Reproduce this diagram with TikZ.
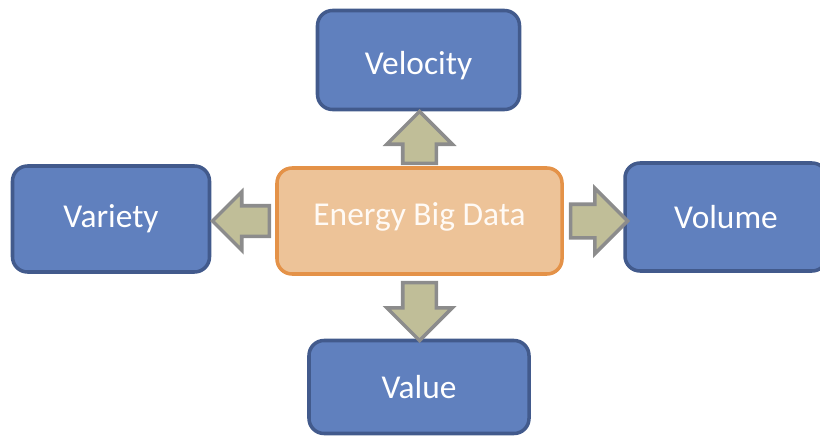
\documentclass[tikz,border=0pt]{standalone}
\usepackage{fontspec}
\setmainfont{Carlito}
\usepackage{xcolor}
\definecolor{boxblue}{RGB}{96,128,190}
\definecolor{boxblueline}{RGB}{66,90,140}
\definecolor{boxorange}{RGB}{237,195,152}
\definecolor{boxorangeline}{RGB}{228,146,72}
\definecolor{arrowkhaki}{RGB}{192,190,152}
\definecolor{arrowgray}{RGB}{140,140,140}
\usepackage{tikz}
\usetikzlibrary{positioning,calc,shapes.arrows}
\tikzstyle{vbox} = [rectangle, rounded corners=0.3cm, draw=boxblueline,
  fill=boxblue, line width=2pt, text=white,
  font=\fontsize{19}{22}\selectfont]
\tikzstyle{fatarrow} = [single arrow, draw=arrowgray, fill=arrowkhaki,
  line width=2pt, inner sep=0pt, single arrow head extend=0.32cm,
  anchor=tail]
\tikzstyle{uparrow} = [fatarrow, inner xsep=0.3cm]
\tikzstyle{sidearrow} = [fatarrow, inner ysep=0.3cm]

\begin{document}
\begin{tikzpicture}
  \useasboundingbox (0,0) rectangle (16.4,-8.72);
  % centre
  \node[vbox, draw=boxorangeline, fill=boxorange, text=white!96!orange,
    minimum width=5.7cm, minimum height=2.12cm] (energy) at (8.39, -4.42)
    {\raisebox{0.08cm}[\height][\depth]{Energy Big Data}};
  % the four V's
  \node[vbox, minimum width=4.04cm, minimum height=1.98cm]
    (velocity) at (8.37, -1.2) {\raisebox{-0.12cm}[\height][\depth]{Velocity}};
  \node[vbox, minimum width=3.94cm, minimum height=2.12cm]
    (variety) at (2.22, -4.38) {Variety};
  \node[vbox, minimum width=4.04cm, minimum height=2.16cm]
    (volume) at (14.52, -4.34) {Volume};
  \node[vbox, minimum width=4.4cm, minimum height=1.86cm]
    (value) at (8.38, -7.74) {Value};
  % arrows
  \node[uparrow, shape border rotate=90, minimum height=1.04cm]
    (toVelocity) at ([yshift=0.02cm]energy.north) {};
  \node[sidearrow, shape border rotate=180, minimum height=1.14cm,
    inner ysep=0.27cm, single arrow head extend=0.28cm]
    (toVariety) at ([xshift=-0.08cm]energy.west) {};
  \node[sidearrow, shape border rotate=0, minimum height=1.14cm]
    (toVolume) at ([xshift=0.1cm]energy.east) {};
  \node[uparrow, shape border rotate=270, minimum height=1.16cm]
    (toValue) at ([yshift=-0.1cm]energy.south) {};
\end{tikzpicture}
\end{document}
